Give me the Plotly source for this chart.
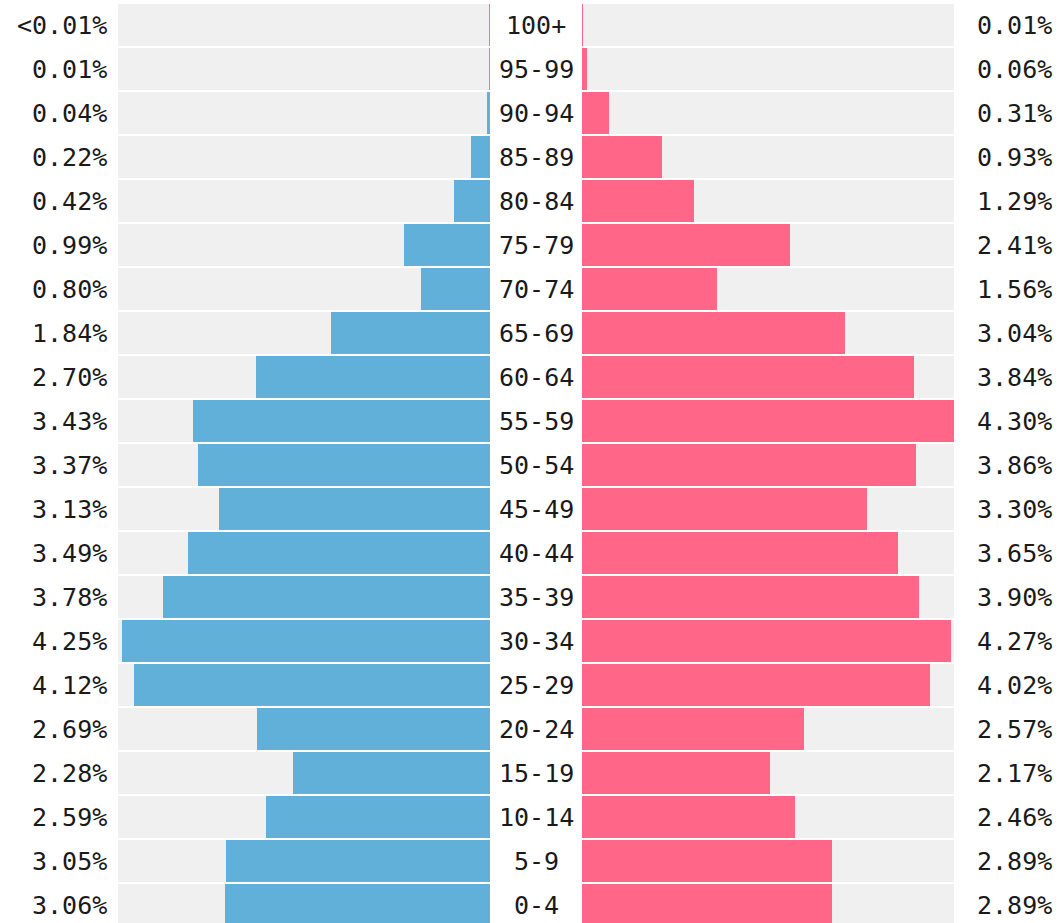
import plotly.graph_objects as go

ages = ["0-4", "5-9", "10-14", "15-19", "20-24", "25-29", "30-34", "35-39",
        "40-44", "45-49", "50-54", "55-59", "60-64", "65-69", "70-74", "75-79",
        "80-84", "85-89", "90-94", "95-99", "100+"]
male = [3.06, 3.05, 2.59, 2.28, 2.69, 4.12, 4.25, 3.78, 3.49, 3.13, 3.37,
        3.43, 2.70, 1.84, 0.80, 0.99, 0.42, 0.22, 0.04, 0.01, 0.004]
female = [2.89, 2.89, 2.46, 2.17, 2.57, 4.02, 4.27, 3.90, 3.65, 3.30, 3.86,
          4.30, 3.84, 3.04, 1.56, 2.41, 1.29, 0.93, 0.31, 0.06, 0.01]

BLUE = "#61b0d9"
PINK = "#ff6688"
GRAY = "#f0f0f0"
FONT = "DejaVu Sans Mono"
W, H = 1062, 923

def fmt(v):
    return "<0.01%" if v < 0.01 else f"{v:.2f}%"

vmax = max(max(male), max(female))
idx = list(range(len(ages)))
bw = 0.955

fig = go.Figure()
fig.add_trace(go.Bar(y=idx, x=[vmax] * len(ages), orientation="h", width=bw,
                     marker=dict(color=GRAY, line_width=0), xaxis="x", yaxis="y",
                     hoverinfo="skip", showlegend=False))
fig.add_trace(go.Bar(y=idx, x=male, orientation="h", width=bw,
                     marker=dict(color=BLUE, line_width=0), xaxis="x", yaxis="y",
                     showlegend=False))
fig.add_trace(go.Bar(y=idx, x=[vmax] * len(ages), orientation="h", width=bw,
                     marker=dict(color=GRAY, line_width=0), xaxis="x2", yaxis="y",
                     hoverinfo="skip", showlegend=False))
fig.add_trace(go.Bar(y=idx, x=female, orientation="h", width=bw,
                     marker=dict(color=PINK, line_width=0), xaxis="x2", yaxis="y",
                     showlegend=False))

ann = []
for i, a in enumerate(ages):
    ann.append(dict(x=109 / W, y=i, xref="paper", yref="y", text=fmt(male[i]),
                    xanchor="right", yanchor="middle", showarrow=False))
    ann.append(dict(x=536 / W, y=i, xref="paper", yref="y", text=a,
                    xanchor="center", yanchor="middle", showarrow=False))
    ann.append(dict(x=975 / W, y=i, xref="paper", yref="y", text=fmt(female[i]),
                    xanchor="left", yanchor="middle", showarrow=False))

top = (len(ages) - 0.5) + 3 / 44
bottom = top - H / 44

fig.update_layout(
    width=W, height=H,
    margin=dict(l=0, r=0, t=0, b=0),
    paper_bgcolor="white", plot_bgcolor="white",
    barmode="overlay", bargap=0,
    font=dict(family=FONT, size=25, color="#1a1a1a"),
    annotations=ann,
    xaxis=dict(domain=[118 / W, 490 / W], range=[vmax, 0], visible=False, fixedrange=True),
    xaxis2=dict(domain=[582 / W, (582 + 372) / W], range=[0, vmax], visible=False, fixedrange=True),
    yaxis=dict(range=[bottom, top], visible=False, fixedrange=True),
)

fig.write_html("out.html",
               config={"displayModeBar": False},
               post_script="document.body.style.margin='0';document.body.style.overflow='hidden';")
